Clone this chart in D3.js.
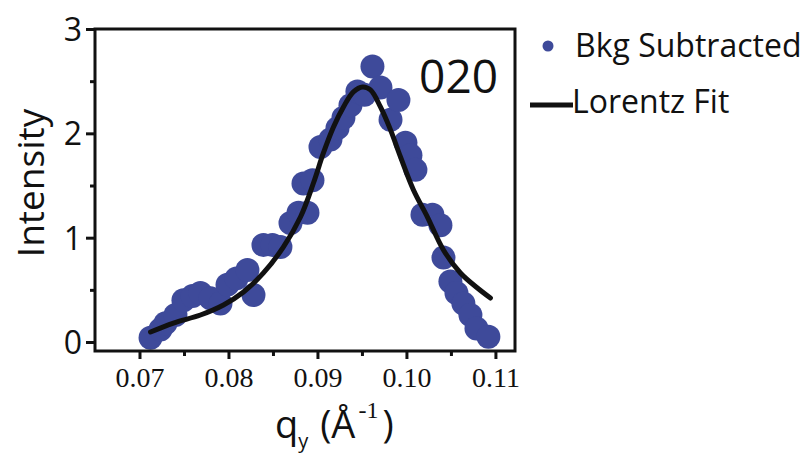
<!DOCTYPE html>
<html lang="en">
<head>
    <meta charset="UTF-8">
    <title>020 Lorentz</title>
    <script src="https://d3js.org/d3.v7.min.js"></script>
    <style>
        body { margin: 0; background: #fff; }
        svg { display: block; }
    </style>
</head>
<body>
<script>
    const width  = 806;
    const height = 455;

    // background subtracted points
    const qData = [0.07124, 0.07236, 0.07292, 0.07404, 0.07494, 0.07596, 0.07685, 0.07798, 0.07910, 0.07989,
                   0.08090, 0.08213, 0.08281, 0.08393, 0.08494, 0.08584, 0.08697, 0.08787, 0.08888, 0.08843,
                   0.08944, 0.09034, 0.09146, 0.09225, 0.09292, 0.09371, 0.09449, 0.09528, 0.09618, 0.09708,
                   0.09821, 0.09910, 0.09989, 0.10045, 0.10101, 0.10180, 0.10292, 0.10382, 0.10416, 0.10494,
                   0.10562, 0.10640, 0.10719, 0.10787, 0.10921];
    const intensityData = [0.04, 0.12, 0.18, 0.26, 0.40, 0.44, 0.47, 0.42, 0.37, 0.55,
                           0.61, 0.69, 0.45, 0.93, 0.93, 0.91, 1.14, 1.24, 1.24, 1.52,
                           1.55, 1.87, 1.94, 2.05, 2.15, 2.27, 2.40, 2.37, 2.64, 2.44,
                           2.13, 2.32, 1.91, 1.79, 1.65, 1.22, 1.22, 1.12, 0.81, 0.58,
                           0.47, 0.37, 0.26, 0.13, 0.05];

    // Lorentz fit, points
    const fitQ = [0.07124, 0.07382, 0.07685, 0.07944, 0.08169, 0.08393, 0.08618, 0.08809, 0.08955, 0.09067,
                  0.09180, 0.09292, 0.09404, 0.09506, 0.09596, 0.09708, 0.09821, 0.09933, 0.10079, 0.10236,
                  0.10416, 0.10607, 0.10798, 0.10944];
    const fitI = [0.096, 0.182, 0.259, 0.355, 0.479, 0.662, 0.911, 1.198, 1.524, 1.812,
                  2.061, 2.253, 2.397, 2.445, 2.416, 2.253, 2.033, 1.774, 1.457, 1.198,
                  0.882, 0.662, 0.518, 0.422];

    const xTicks = [0.07, 0.08, 0.09, 0.10, 0.11];
    const xMinor = [0.075, 0.085, 0.095, 0.105];
    const yTicks = [0, 1, 2, 3];
    const yMinor = [0.5, 1.5, 2.5];

    const plotL = 95, plotR = 515, plotT = 29, plotB = 351;
    const blue = "#3e4a9a";
    const sans = "'Open Sans', 'Noto Sans', sans-serif";

    const x = d3.scaleLinear().domain([0.065, 0.1122]).range([plotL, plotR]);
    const y = d3.scaleLinear().domain([-0.086, 3]).range([plotB, plotT]);

    const svg = d3.select("body")
            .append("svg")
            .attr("width", width)
            .attr("height", height);

    // points
    const points = qData.map((q, i) => ({q: q, v: intensityData[i]}));
    svg.append("g")
            .selectAll("circle")
            .data(points)
            .join("circle")
            .attr("cx", d => x(d.q))
            .attr("cy", d => y(d.v))
            .attr("r", 12)
            .style("fill", blue);

    // fit line
    const fit = fitQ.map((q, i) => ({q: q, v: fitI[i]}));
    svg.append("path")
            .datum(fit)
            .attr("d", d3.line().x(d => x(d.q)).y(d => y(d.v)).curve(d3.curveCatmullRom))
            .style("fill", "none")
            .style("stroke", "#111")
            .style("stroke-width", 5)
            .style("stroke-linecap", "round");

    // frame
    svg.append("rect")
            .attr("x", plotL).attr("y", plotT)
            .attr("width", plotR - plotL).attr("height", plotB - plotT)
            .style("fill", "none")
            .style("stroke", "#111")
            .style("stroke-width", 3);

    // y axis
    const gy = svg.append("g")
            .attr("transform", "translate(" + plotL + ",0)")
            .call(d3.axisLeft(y).tickValues(yTicks).tickSize(9).tickSizeOuter(0).tickPadding(4)
                    .tickFormat(d3.format("d")));
    gy.select(".domain").remove();
    gy.selectAll(".tick line").style("stroke", "#111").style("stroke-width", 3);
    gy.selectAll(".tick text")
            .style("font-family", sans).style("font-size", "32px").style("fill", "#111")
            .attr("dy", "0.36em");

    const gyMinor = svg.append("g")
            .attr("transform", "translate(" + plotL + ",0)")
            .call(d3.axisLeft(y).tickValues(yMinor).tickSize(5).tickFormat(""));
    gyMinor.select(".domain").remove();
    gyMinor.selectAll(".tick line").style("stroke", "#111").style("stroke-width", 3);

    // x axis
    const gx = svg.append("g")
            .attr("transform", "translate(0," + plotB + ")")
            .call(d3.axisBottom(x).tickValues(xTicks).tickSize(8).tickPadding(8)
                    .tickFormat(d3.format(".2f")));
    gx.select(".domain").remove();
    gx.selectAll(".tick line").style("stroke", "#111").style("stroke-width", 3);
    gx.selectAll(".tick text")
            .style("font-family", "'Liberation Serif', 'Times New Roman', serif")
            .style("font-size", "28px").style("fill", "#111");

    const gxMinor = svg.append("g")
            .attr("transform", "translate(0," + plotB + ")")
            .call(d3.axisBottom(x).tickValues(xMinor).tickSize(5).tickFormat(""));
    gxMinor.select(".domain").remove();
    gxMinor.selectAll(".tick line").style("stroke", "#111").style("stroke-width", 3);

    // axis titles
    svg.append("text")
            .attr("transform", "translate(44,183) rotate(-90)")
            .attr("text-anchor", "middle")
            .style("font-family", sans).style("font-size", "37px").style("fill", "#111")
            .text("Intensity");

    const xt = svg.append("text")
            .attr("x", 275).attr("y", 438)
            .style("font-family", sans).style("font-size", "38px").style("fill", "#111");
    xt.append("tspan").text("q");
    xt.append("tspan").attr("dy", 10).style("font-size", "20px").text("y");
    xt.append("tspan").attr("dy", -10).attr("dx", 2).text(" (Å");
    xt.append("tspan").attr("dy", -20).attr("dx", 3)
            .style("font-family", "'Liberation Serif', serif").style("font-size", "24px").text("-1");
    xt.append("tspan").attr("dy", 20).attr("dx", 4).text(")");

    // peak label
    svg.append("text")
            .attr("x", 498).attr("y", 93)
            .attr("text-anchor", "end")
            .style("font-family", sans).style("font-size", "46px").style("fill", "#111")
            .text("020");

    // legend
    svg.append("circle")
            .attr("cx", 548).attr("cy", 46).attr("r", 5.5)
            .style("fill", blue);
    svg.append("text")
            .attr("x", 575).attr("y", 57)
            .style("font-family", sans).style("font-size", "32px").style("fill", "#111")
            .text("Bkg Subtracted");
    svg.append("line")
            .attr("x1", 530).attr("x2", 573).attr("y1", 105).attr("y2", 105)
            .style("stroke", "#111").style("stroke-width", 5);
    svg.append("text")
            .attr("x", 572).attr("y", 113)
            .style("font-family", sans).style("font-size", "32px").style("fill", "#111")
            .text("Lorentz Fit");
</script>
</body>
</html>
